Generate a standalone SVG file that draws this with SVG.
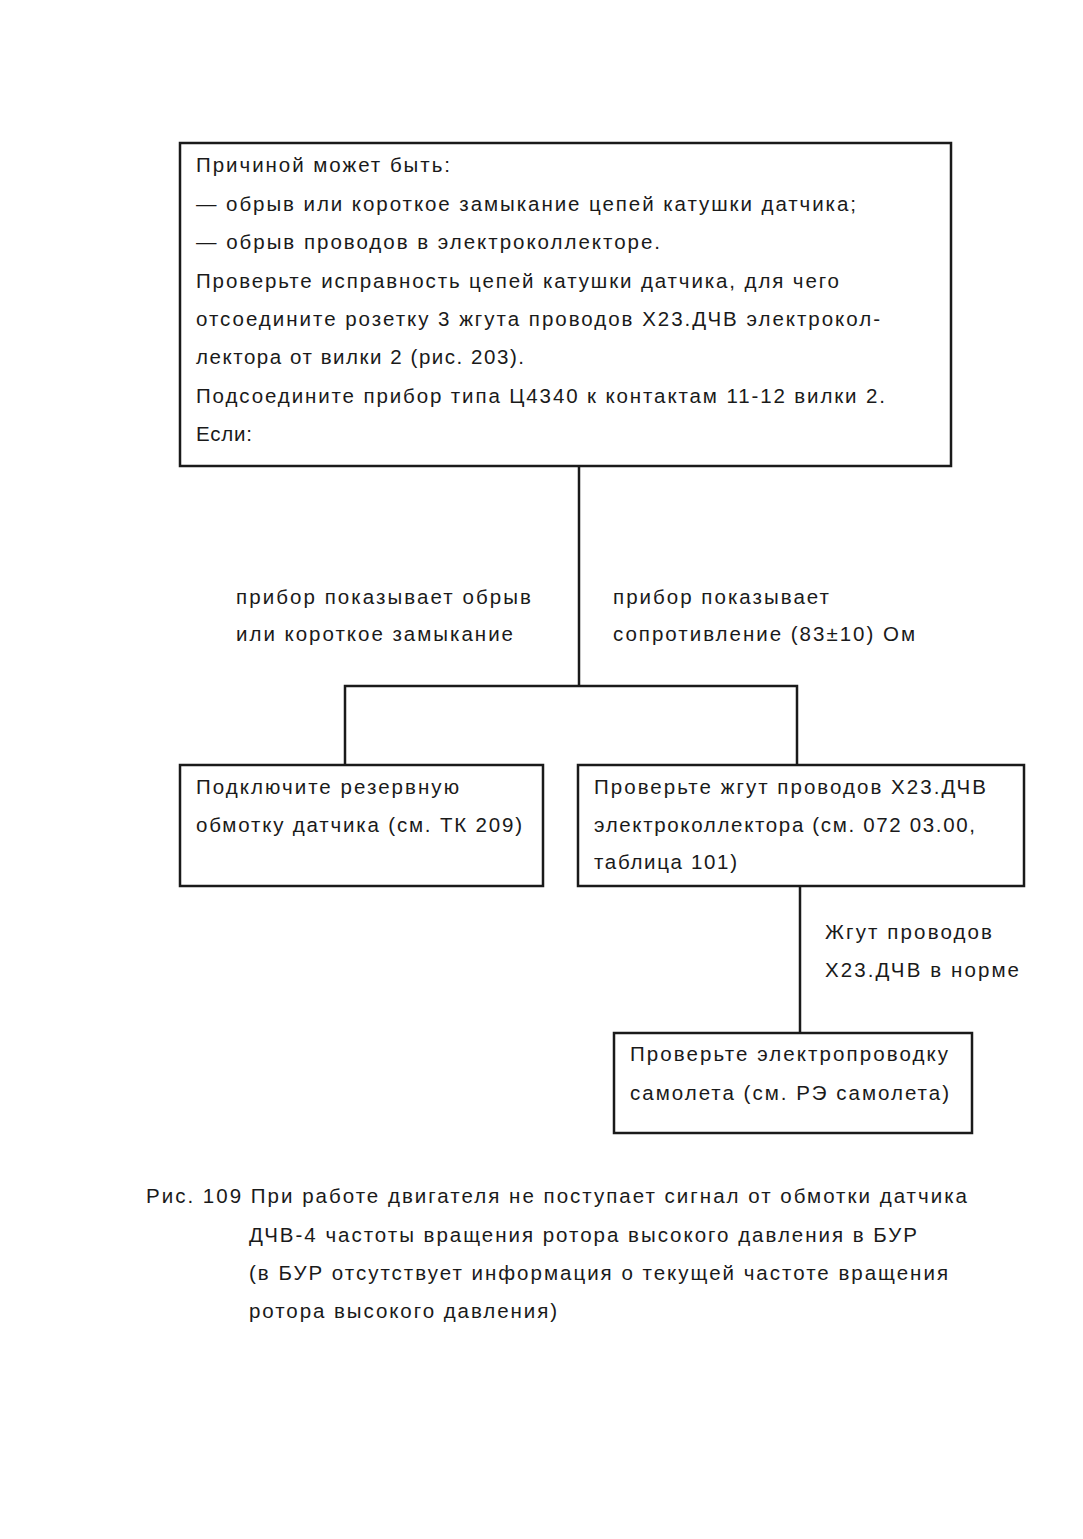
<svg xmlns="http://www.w3.org/2000/svg" width="1083" height="1539" viewBox="0 0 1083 1539">
<style>
text{font-family:"Liberation Sans",Arial,sans-serif;font-size:20.5px;fill:#1a1a1a}
.box{fill:none;stroke:#1a1a1a;stroke-width:2.5}
.ln{fill:none;stroke:#1a1a1a;stroke-width:2.5}
</style>
<rect width="1083" height="1539" fill="#fff"/>
<g id="n1">
<rect class="box" x="180" y="143" width="771" height="323"/>
<text x="196" y="172" textLength="254" lengthAdjust="spacing">Причиной может быть:</text>
<text x="196" y="211" textLength="660" lengthAdjust="spacing">—  обрыв или короткое замыкание цепей катушки датчика;</text>
<text x="196" y="249" textLength="464" lengthAdjust="spacing">—  обрыв проводов в электроколлекторе.</text>
<text x="196" y="288" textLength="643" lengthAdjust="spacing">Проверьте исправность цепей катушки датчика, для чего</text>
<text x="196" y="326" textLength="684" lengthAdjust="spacing">отсоедините розетку 3 жгута проводов X23.ДЧВ электрокол-</text>
<text x="196" y="364" textLength="328" lengthAdjust="spacing">лектора от вилки 2 (рис. 203).</text>
<text x="196" y="403" textLength="689" lengthAdjust="spacing">Подсоедините прибор типа Ц4340 к контактам 11-12 вилки 2.</text>
<text x="196" y="441" textLength="56" lengthAdjust="spacing">Если:</text>
</g>
<g id="n2">
<rect class="box" x="180" y="765" width="363" height="121"/>
<text x="196" y="794" textLength="263" lengthAdjust="spacing">Подключите резервную</text>
<text x="196" y="832" textLength="326" lengthAdjust="spacing">обмотку датчика (см. ТК 209)</text>
</g>
<g id="n3">
<rect class="box" x="578" y="765" width="446" height="121"/>
<text x="594" y="794" textLength="392" lengthAdjust="spacing">Проверьте жгут проводов X23.ДЧВ</text>
<text x="594" y="832" textLength="381" lengthAdjust="spacing">электроколлектора (см. 072 03.00,</text>
<text x="594" y="869" textLength="143" lengthAdjust="spacing">таблица 101)</text>
</g>
<g id="n4">
<rect class="box" x="614" y="1033" width="358" height="100"/>
<text x="630" y="1061" textLength="318" lengthAdjust="spacing">Проверьте электропроводку</text>
<text x="630" y="1100" textLength="319" lengthAdjust="spacing">самолета (см. РЭ самолета)</text>
</g>
<g id="connectors">
<polyline class="ln" points="579,466 579,686"/>
<polyline class="ln" points="345,765 345,686 797,686 797,765"/>
<polyline class="ln" points="800,886 800,1033"/>
<text x="236" y="604" textLength="295" lengthAdjust="spacing">прибор показывает обрыв</text>
<text x="236" y="641" textLength="277" lengthAdjust="spacing">или короткое замыкание</text>
<text x="613" y="604" textLength="216" lengthAdjust="spacing">прибор показывает</text>
<text x="613" y="641" textLength="302" lengthAdjust="spacing">сопротивление (83±10) Ом</text>
<text x="825" y="939" textLength="167" lengthAdjust="spacing">Жгут проводов</text>
<text x="825" y="977" textLength="194" lengthAdjust="spacing">X23.ДЧВ в норме</text>
</g>
<g id="caption">
<text x="146" y="1203" textLength="821" lengthAdjust="spacing">Рис. 109  При работе двигателя не поступает сигнал от обмотки датчика</text>
<text x="249" y="1242" textLength="668" lengthAdjust="spacing">ДЧВ-4 частоты вращения ротора высокого давления в БУР</text>
<text x="249" y="1280" textLength="699" lengthAdjust="spacing">(в БУР отсутствует информация о текущей частоте вращения</text>
<text x="249" y="1318" textLength="308" lengthAdjust="spacing">ротора высокого давления)</text>
</g>
</svg>
